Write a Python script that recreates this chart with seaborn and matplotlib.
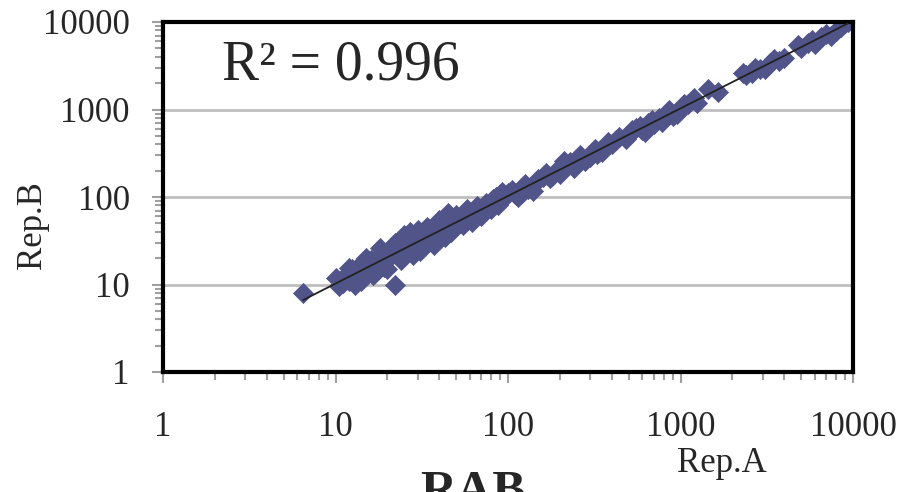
import numpy as np
import pandas as pd
import matplotlib
matplotlib.use("Agg")
import matplotlib.pyplot as plt
import seaborn as sns
from matplotlib.ticker import LogLocator, NullFormatter, FixedLocator, FixedFormatter

# (Rep.A vs Rep.B)
rep_a = [6.5, 10, 10.5, 11, 11.5, 12, 12.5, 13, 13.5, 14, 14.5, 15, 16, 16.5, 17, 18, 19,
         20, 21, 22, 23, 24, 25, 26, 27, 28, 29, 30, 32, 33, 35, 36, 38, 40, 42, 44, 46,
         48, 50, 53, 56, 60, 64, 68, 72, 76, 80, 85, 90, 95, 100,
         12, 13, 15, 17, 18, 20, 22, 24, 25, 27, 28, 30, 31, 34, 37, 40, 43, 45, 47,
         50, 55, 58, 62, 66, 70, 75, 82, 88, 92,
         105, 110, 115, 120, 125, 130, 140, 145, 150, 160, 165, 175, 180, 190, 200,
         210, 215, 230, 240, 250, 260, 270, 280, 300, 320, 330, 350,
         380, 400, 420, 440, 480, 500, 520, 550, 580, 600, 620, 650, 680, 700, 750,
         780, 820, 860, 900, 950, 1000, 1050, 1100, 1200, 1250,
         1450, 1650, 2300, 2400, 2600, 2700, 2900, 3100, 3300, 3500, 3700, 4000,
         4800, 5000, 5500, 5800, 6000, 6500, 7000, 7500, 8000, 8500, 9000, 9300]
rep_b = [8, 12, 9.5, 10.5, 13, 11, 15, 12, 16, 11, 18, 14, 19, 13, 17, 22, 16,
         19, 24, 10, 21, 28, 22, 35, 30, 25, 33, 27, 38, 30, 34, 42, 33, 45, 38, 52, 44,
         55, 47, 58, 52, 62, 58, 70, 66, 78, 72, 100, 105, 98, 110,
         15.5, 10, 20, 13.5, 26, 15, 30, 19, 37, 40, 22, 42, 24, 46, 28, 55, 35, 65, 40,
         62, 48, 72, 52, 78, 60, 85, 95, 80, 115,
         120, 108, 100, 112, 140, 125, 118, 150, 160, 170, 190, 165, 175, 200, 185,
         260, 230, 250, 215, 240, 300, 280, 260, 290, 350, 310, 330,
         420, 400, 450, 480, 460, 520, 580, 620, 650, 580, 560, 700, 760, 680, 800,
         720, 900, 980, 850, 900, 1050, 1150, 1150, 1350, 1200,
         1700, 1600, 2600, 2500, 2600, 3000, 2900, 2900, 3400, 3800, 3600, 3900,
         5400, 5100, 5800, 6300, 5600, 6800, 7200, 7000, 7900, 8700, 9700, 10000]

r2_text = "R² = 0.996"
x_ticks = [1, 10, 100, 1000, 10000]
tick_labels = ["1", "10", "100", "1000", "10000"]

df = pd.DataFrame({"Rep.A": rep_a, "Rep.B": rep_b})

sns.set_style("white")
plt.rcParams["font.family"] = ["Liberation Serif", "DejaVu Serif"]

fig = plt.figure(figsize=(9.07, 4.92), dpi=100)
ax = fig.add_axes([163 / 907, 120 / 492, 690 / 907, 350 / 492])

ax.set_xscale("log")
ax.set_yscale("log")
ax.set_xlim(1, 10000)
ax.set_ylim(1, 10000)

# power trend line fitted in log space
k, b = np.polyfit(np.log10(df["Rep.A"]), np.log10(df["Rep.B"]), 1)
xs = np.array([df["Rep.A"].min(), df["Rep.A"].max()])
ax.plot(xs, 10 ** (k * np.log10(xs) + b), color="#222222", lw=1.3, zorder=3)

sns.scatterplot(data=df, x="Rep.A", y="Rep.B", marker="D", s=105, color="#505488",
                edgecolor="#505488", linewidth=0.5, ax=ax, zorder=2)

for v in [10, 100, 1000]:
    ax.axhline(v, color="#BFBFBF", lw=2, zorder=0)

for side in ["left", "bottom", "top", "right"]:
    ax.spines[side].set_visible(True)
    ax.spines[side].set_color("black")
    ax.spines[side].set_linewidth(3)

ax.xaxis.set_major_locator(FixedLocator(x_ticks))
ax.xaxis.set_major_formatter(FixedFormatter(tick_labels))
ax.yaxis.set_major_locator(FixedLocator(x_ticks))
ax.yaxis.set_major_formatter(FixedFormatter(tick_labels))
ax.xaxis.set_minor_locator(LogLocator(base=10, subs=np.arange(2, 10)))
ax.yaxis.set_minor_locator(LogLocator(base=10, subs=np.arange(2, 10)))
ax.xaxis.set_minor_formatter(NullFormatter())
ax.yaxis.set_minor_formatter(NullFormatter())

ax.tick_params(axis="both", which="both", direction="out", color="#A0A0A0",
               width=1.5, bottom=True, left=True, top=False, right=False)
ax.tick_params(axis="both", which="major", length=8, labelsize=25)
ax.tick_params(axis="both", which="minor", length=6)
ax.tick_params(axis="y", which="major", pad=16)
ax.tick_params(axis="x", which="major", pad=20)

ax.set_xlabel("Rep.A", fontsize=25)
ax.set_ylabel("Rep.B", fontsize=25)
ax.xaxis.set_label_coords(0.81, -0.215)
ax.yaxis.set_label_coords(-0.165, 0.42)

ax.text(0.085, 0.875, r2_text, transform=ax.transAxes, fontsize=40,
        ha="left", va="center")

# title sits at the lower edge of the picture, mostly cut off as in the source
fig.text(420 / 907, 0.045, "RAB", fontsize=36, fontweight="bold", ha="left", va="top")

fig.savefig("out.png", dpi=100)
